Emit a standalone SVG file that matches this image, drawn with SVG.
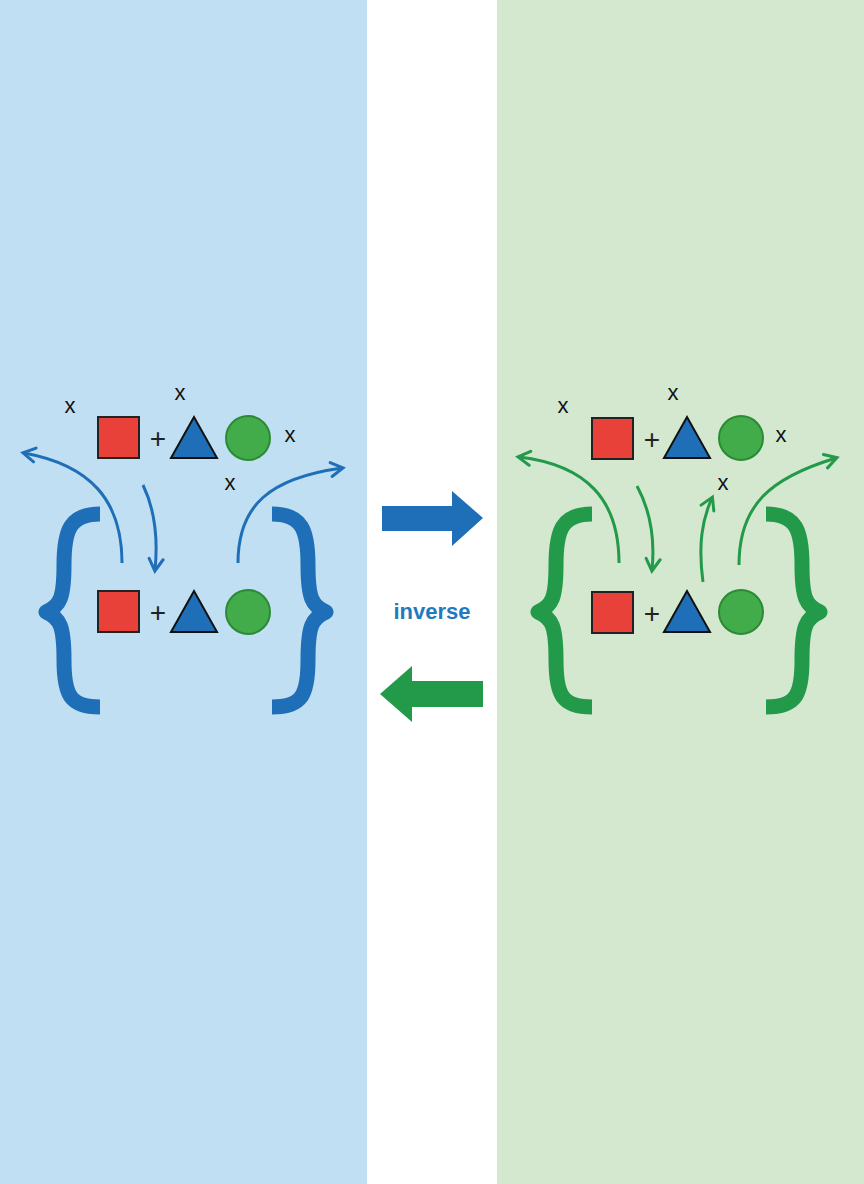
<svg xmlns="http://www.w3.org/2000/svg" width="864" height="1184" viewBox="0 0 864 1184">
<defs>
<style>
.sq{fill:#e8413a;stroke:#222;stroke-width:2}
.tri{fill:#1f6fb8;stroke:#111;stroke-width:2}
.cir{fill:#43ac4a;stroke:#2a8a35;stroke-width:2}
.t{font-family:"Liberation Sans",Arial,sans-serif;font-size:22px;fill:#111;text-anchor:middle}
.pl{font-family:"Liberation Sans",Arial,sans-serif;font-size:28px;fill:#222;text-anchor:middle}
.ab{fill:none;stroke:#1f6fb8;stroke-width:3}
.ag{fill:none;stroke:#23994a;stroke-width:3}
.bb{fill:none;stroke:#1f6fb8;stroke-width:15;stroke-linejoin:round}
.bg{fill:none;stroke:#23994a;stroke-width:15;stroke-linejoin:round}
</style>
<marker id="hb" markerWidth="18" markerHeight="18" refX="13" refY="9" orient="auto" markerUnits="userSpaceOnUse" viewBox="0 0 18 18"><path d="M2,2 L14,9 L2,16" fill="none" stroke="#1f6fb8" stroke-width="3" stroke-linecap="round"/></marker>
<marker id="hg" markerWidth="18" markerHeight="18" refX="13" refY="9" orient="auto" markerUnits="userSpaceOnUse" viewBox="0 0 18 18"><path d="M2,2 L14,9 L2,16" fill="none" stroke="#23994a" stroke-width="3" stroke-linecap="round"/></marker>
</defs>
<rect x="0" y="0" width="367" height="1184" fill="#c1dff2"/>
<rect x="367" y="0" width="130" height="1184" fill="#ffffff"/>
<rect x="497" y="0" width="367" height="1184" fill="#d3e8cf"/>

<g id="left-panel">
<g id="left-top">
<rect class="sq" x="98" y="417" width="41" height="41"/>
<text class="pl" x="158" y="448">+</text>
<polygon class="tri" points="194,417 171,458 217,458"/>
<circle class="cir" cx="248" cy="438" r="22"/>
<text class="t" x="70" y="413">x</text>
<text class="t" x="180" y="400">x</text>
<text class="t" x="290" y="442">x</text>
<text class="t" x="230" y="490">x</text>
</g>
<g id="left-bottom">
<rect class="sq" x="98" y="591" width="41" height="41"/>
<text class="pl" x="158" y="622">+</text>
<polygon class="tri" points="194,591 171,632 217,632"/>
<circle class="cir" cx="248" cy="612" r="22"/>
</g>
<path class="bb" d="M100,514 C70,514 64,530 64,565 C64,598 60,606 46,612 C60,618 64,626 64,660 C64,695 70,707 100,707"/>
<path class="bb" d="M272,514 C302,514 308,530 308,565 C308,598 312,606 326,612 C312,618 308,626 308,660 C308,695 302,707 272,707"/>
</g>

<g id="right-panel">
<g id="right-top">
<rect class="sq" x="592" y="418" width="41" height="41"/>
<text class="pl" x="652" y="449">+</text>
<polygon class="tri" points="687,417 664,458 710,458"/>
<circle class="cir" cx="741" cy="438" r="22"/>
<text class="t" x="563" y="413">x</text>
<text class="t" x="673" y="400">x</text>
<text class="t" x="781" y="442">x</text>
<text class="t" x="723" y="490">x</text>
</g>
<g id="right-bottom">
<rect class="sq" x="592" y="592" width="41" height="41"/>
<text class="pl" x="652" y="623">+</text>
<polygon class="tri" points="687,591 664,632 710,632"/>
<circle class="cir" cx="741" cy="612" r="22"/>
</g>
<path class="bg" d="M592,514 C562,514 556,530 556,565 C556,598 552,606 538,612 C552,618 556,626 556,660 C556,695 562,707 592,707"/>
<path class="bg" d="M766,514 C796,514 802,530 802,565 C802,598 806,606 820,612 C806,618 802,626 802,660 C802,695 796,707 766,707"/>
</g>

<g id="connectors">
<path class="ab" d="M122,563 C122,500 90,465 24,453" marker-end="url(#hb)"/>
<path class="ab" d="M143,485 C155,510 158,540 155,570" marker-end="url(#hb)"/>
<path class="ab" d="M238,563 C238,505 270,478 342,468" marker-end="url(#hb)"/>
<path class="ag" d="M619,563 C619,500 587,465 519,457" marker-end="url(#hg)"/>
<path class="ag" d="M637,486 C650,510 655,540 652,570" marker-end="url(#hg)"/>
<path class="ag" d="M703,582 C698,545 702,520 712,498" marker-end="url(#hg)"/>
<path class="ag" d="M739,565 C739,505 770,478 836,458" marker-end="url(#hg)"/>
<polygon points="382,506 452,506 452,491 483,518 452,546 452,531 382,531" fill="#1f6fb8"/>
<polygon points="483,681 412,681 412,666 380,694 412,722 412,707 483,707" fill="#23994a"/>
</g>
<text x="432" y="619" font-family="Liberation Sans,Arial,sans-serif" font-size="22" font-weight="bold" fill="#1f7abf" text-anchor="middle">inverse</text>
</svg>
